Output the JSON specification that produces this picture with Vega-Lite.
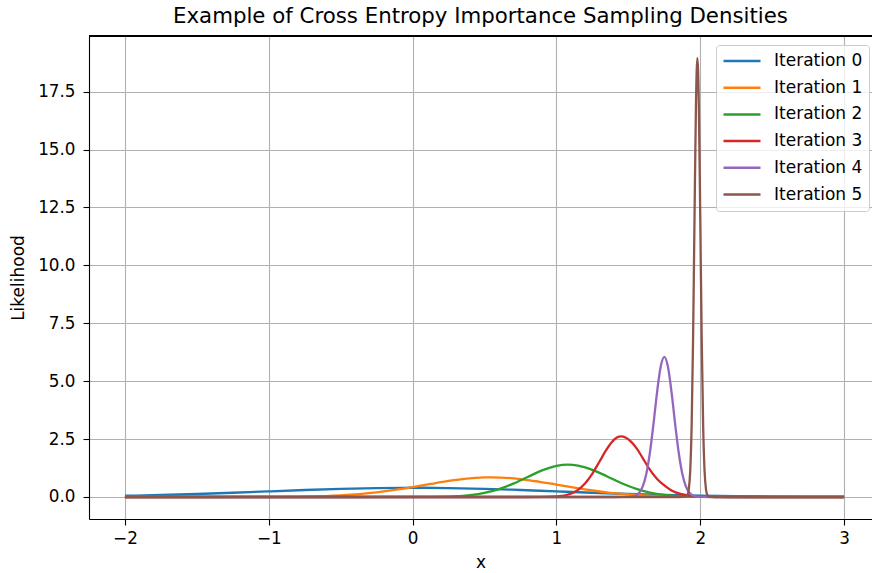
{
  "$schema": "https://vega.github.io/schema/vega-lite/v6.json",
  "width": 783,
  "height": 483,
  "autosize": {"type": "none"},
  "padding": {"left": 89, "top": 36, "right": 0, "bottom": 54},
  "background": "white",
  "view": {"stroke": null},
  "title": {"text": "Example of Cross Entropy Importance Sampling Densities", "font": "DejaVu Sans", "fontSize": 21.3, "fontWeight": "normal", "color": "#000", "anchor": "middle", "offset": 8},
  "config": {
    "font": "DejaVu Sans",
    "axis": {"labelFont": "DejaVu Sans", "titleFont": "DejaVu Sans", "labelFontSize": 16.8, "titleFontSize": 17, "titleFontWeight": "normal", "labelColor": "#000", "titleColor": "#000", "domainColor": "#000", "domainWidth": 1.1, "tickColor": "#000", "tickWidth": 1.1, "tickSize": 6, "gridColor": "#b0b0b0", "gridWidth": 1.1, "labelFlush": false, "labelOverlap": false}
  },
  "data": {"values": [
    {"s":"Iteration 0","x":-2,"y":0.054},{"s":"Iteration 0","x":-1.75,"y":0.0863},{"s":"Iteration 0","x":-1.5,"y":0.1295},{"s":"Iteration 0","x":-1.25,"y":0.1826},{"s":"Iteration 0","x":-1,"y":0.242},{"s":"Iteration 0","x":-0.75,"y":0.3011},{"s":"Iteration 0","x":-0.5,"y":0.3521},{"s":"Iteration 0","x":-0.25,"y":0.3867},{"s":"Iteration 0","x":0,"y":0.3989},{"s":"Iteration 0","x":0.25,"y":0.3867},{"s":"Iteration 0","x":0.5,"y":0.3521},{"s":"Iteration 0","x":0.75,"y":0.3011},{"s":"Iteration 0","x":1,"y":0.242},{"s":"Iteration 0","x":1.25,"y":0.1826},{"s":"Iteration 0","x":1.5,"y":0.1295},{"s":"Iteration 0","x":1.75,"y":0.0863},{"s":"Iteration 0","x":2,"y":0.054},{"s":"Iteration 0","x":2.25,"y":0.0317},{"s":"Iteration 0","x":2.5,"y":0.0175},{"s":"Iteration 0","x":2.75,"y":0.0091},{"s":"Iteration 0","x":3,"y":0.0044},
    {"s":"Iteration 1","x":-2,"y":0},{"s":"Iteration 1","x":-1.5,"y":0.0001},{"s":"Iteration 1","x":-1,"y":0.0037},{"s":"Iteration 1","x":-0.75,"y":0.0185},{"s":"Iteration 1","x":-0.5,"y":0.07},{"s":"Iteration 1","x":-0.25,"y":0.1995},{"s":"Iteration 1","x":-0.125,"y":0.3027},{"s":"Iteration 1","x":0,"y":0.428},{"s":"Iteration 1","x":0.125,"y":0.564},{"s":"Iteration 1","x":0.25,"y":0.6925},{"s":"Iteration 1","x":0.375,"y":0.792},{"s":"Iteration 1","x":0.5,"y":0.844},{"s":"Iteration 1","x":0.55,"y":0.849},{"s":"Iteration 1","x":0.75,"y":0.7756},{"s":"Iteration 1","x":0.875,"y":0.668},{"s":"Iteration 1","x":1,"y":0.5368},{"s":"Iteration 1","x":1.125,"y":0.4017},{"s":"Iteration 1","x":1.25,"y":0.28},{"s":"Iteration 1","x":1.375,"y":0.182},{"s":"Iteration 1","x":1.5,"y":0.11},{"s":"Iteration 1","x":1.75,"y":0.0326},{"s":"Iteration 1","x":2,"y":0.0073},{"s":"Iteration 1","x":2.25,"y":0.0012},{"s":"Iteration 1","x":2.5,"y":0.0001},{"s":"Iteration 1","x":3,"y":0},
    {"s":"Iteration 2","x":-2,"y":0},{"s":"Iteration 2","x":-1,"y":0},{"s":"Iteration 2","x":0,"y":0.0011},{"s":"Iteration 2","x":0.25,"y":0.0202},{"s":"Iteration 2","x":0.4,"y":0.0814},{"s":"Iteration 2","x":0.5,"y":0.1767},{"s":"Iteration 2","x":0.6,"y":0.339},{"s":"Iteration 2","x":0.7,"y":0.576},{"s":"Iteration 2","x":0.8,"y":0.864},{"s":"Iteration 2","x":0.9,"y":1.147},{"s":"Iteration 2","x":1,"y":1.346},{"s":"Iteration 2","x":1.08,"y":1.4},{"s":"Iteration 2","x":1.15,"y":1.358},{"s":"Iteration 2","x":1.25,"y":1.172},{"s":"Iteration 2","x":1.35,"y":0.894},{"s":"Iteration 2","x":1.45,"y":0.603},{"s":"Iteration 2","x":1.55,"y":0.36},{"s":"Iteration 2","x":1.65,"y":0.19},{"s":"Iteration 2","x":1.75,"y":0.0884},{"s":"Iteration 2","x":1.85,"y":0.0364},{"s":"Iteration 2","x":2,"y":0.0077},{"s":"Iteration 2","x":2.25,"y":0.0003},{"s":"Iteration 2","x":2.5,"y":0},{"s":"Iteration 2","x":3,"y":0},
    {"s":"Iteration 3","x":-2,"y":0},{"s":"Iteration 3","x":0.8,"y":0.0003},{"s":"Iteration 3","x":0.9,"y":0.002},{"s":"Iteration 3","x":1,"y":0.0212},{"s":"Iteration 3","x":1.1,"y":0.142},{"s":"Iteration 3","x":1.15,"y":0.308},{"s":"Iteration 3","x":1.2,"y":0.593},{"s":"Iteration 3","x":1.25,"y":1.012},{"s":"Iteration 3","x":1.3,"y":1.534},{"s":"Iteration 3","x":1.34,"y":1.965},{"s":"Iteration 3","x":1.38,"y":2.332},{"s":"Iteration 3","x":1.42,"y":2.565},{"s":"Iteration 3","x":1.45,"y":2.62},{"s":"Iteration 3","x":1.48,"y":2.57},{"s":"Iteration 3","x":1.52,"y":2.38},{"s":"Iteration 3","x":1.56,"y":2.08},{"s":"Iteration 3","x":1.6,"y":1.68},{"s":"Iteration 3","x":1.64,"y":1.27},{"s":"Iteration 3","x":1.7,"y":0.78},{"s":"Iteration 3","x":1.75,"y":0.5},{"s":"Iteration 3","x":1.8,"y":0.28},{"s":"Iteration 3","x":1.87,"y":0.12},{"s":"Iteration 3","x":1.95,"y":0.04},{"s":"Iteration 3","x":2.05,"y":0.008},{"s":"Iteration 3","x":2.2,"y":0},{"s":"Iteration 3","x":3,"y":0},
    {"s":"Iteration 4","x":-2,"y":0},{"s":"Iteration 4","x":1.4,"y":0},{"s":"Iteration 4","x":1.5,"y":0.0046},{"s":"Iteration 4","x":1.55,"y":0.061},{"s":"Iteration 4","x":1.575,"y":0.18},{"s":"Iteration 4","x":1.6,"y":0.457},{"s":"Iteration 4","x":1.625,"y":1.007},{"s":"Iteration 4","x":1.65,"y":1.92},{"s":"Iteration 4","x":1.675,"y":3.17},{"s":"Iteration 4","x":1.7,"y":4.54},{"s":"Iteration 4","x":1.725,"y":5.63},{"s":"Iteration 4","x":1.75,"y":6.05},{"s":"Iteration 4","x":1.775,"y":5.63},{"s":"Iteration 4","x":1.8,"y":4.54},{"s":"Iteration 4","x":1.825,"y":3.17},{"s":"Iteration 4","x":1.85,"y":1.92},{"s":"Iteration 4","x":1.875,"y":1.007},{"s":"Iteration 4","x":1.9,"y":0.457},{"s":"Iteration 4","x":1.925,"y":0.18},{"s":"Iteration 4","x":1.95,"y":0.061},{"s":"Iteration 4","x":2,"y":0.0046},{"s":"Iteration 4","x":2.1,"y":0},{"s":"Iteration 4","x":3,"y":0},
    {"s":"Iteration 5","x":-2,"y":0},{"s":"Iteration 5","x":1.85,"y":0},{"s":"Iteration 5","x":1.9,"y":0.0134},{"s":"Iteration 5","x":1.91,"y":0.073},{"s":"Iteration 5","x":1.92,"y":0.32},{"s":"Iteration 5","x":1.93,"y":1.11},{"s":"Iteration 5","x":1.94,"y":3.09},{"s":"Iteration 5","x":1.95,"y":6.83},{"s":"Iteration 5","x":1.96,"y":12.04},{"s":"Iteration 5","x":1.97,"y":16.92},{"s":"Iteration 5","x":1.98,"y":18.95},{"s":"Iteration 5","x":1.99,"y":16.92},{"s":"Iteration 5","x":2,"y":12.04},{"s":"Iteration 5","x":2.01,"y":6.83},{"s":"Iteration 5","x":2.02,"y":3.09},{"s":"Iteration 5","x":2.03,"y":1.11},{"s":"Iteration 5","x":2.04,"y":0.32},{"s":"Iteration 5","x":2.05,"y":0.073},{"s":"Iteration 5","x":2.06,"y":0.0134},{"s":"Iteration 5","x":2.1,"y":0},{"s":"Iteration 5","x":3,"y":0}
  ]},
  "layer": [
    {
      "mark": {"type": "line", "strokeWidth": 2.3, "interpolate": "monotone"},
      "encoding": {
        "x": {"field": "x", "type": "quantitative", "scale": {"domain": [-2.25, 3.194], "nice": false, "zero": false},
              "axis": {"title": "x", "values": [-2, -1, 0, 1, 2, 3], "labelExpr": "datum.value < 0 ? '\u2212' + abs(datum.value) : datum.label", "labelPadding": 5, "titlePadding": 8}},
        "y": {"field": "y", "type": "quantitative", "scale": {"domain": [-0.95, 19.9], "nice": false, "zero": false},
              "axis": {"title": "Likelihood", "values": [0, 2.5, 5, 7.5, 10, 12.5, 15, 17.5], "format": ".1f", "labelPadding": 8, "titlePadding": 10}},
        "color": {"field": "s", "type": "nominal",
                  "scale": {"domain": ["Iteration 0", "Iteration 1", "Iteration 2", "Iteration 3", "Iteration 4", "Iteration 5"], "range": ["#1f77b4", "#ff7f0e", "#2ca02c", "#d62728", "#9467bd", "#8c564b"]},
                  "legend": {"title": null, "orient": "none", "legendX": 627, "legendY": 9, "symbolType": "stroke", "symbolSize": 1370, "symbolStrokeWidth": 2.5, "clipHeight": 20, "rowPadding": 6.7, "labelFont": "DejaVu Sans", "labelFontSize": 17, "labelColor": "#000", "labelOffset": 12, "padding": 6, "strokeColor": "#cccccc", "fillColor": "rgba(255,255,255,0.8)", "cornerRadius": 3}}
      }
    },
    {
      "mark": {"type": "rule", "color": "#000", "strokeWidth": 1.1},
      "encoding": {"y": {"datum": 19.9}}
    }
  ]
}
